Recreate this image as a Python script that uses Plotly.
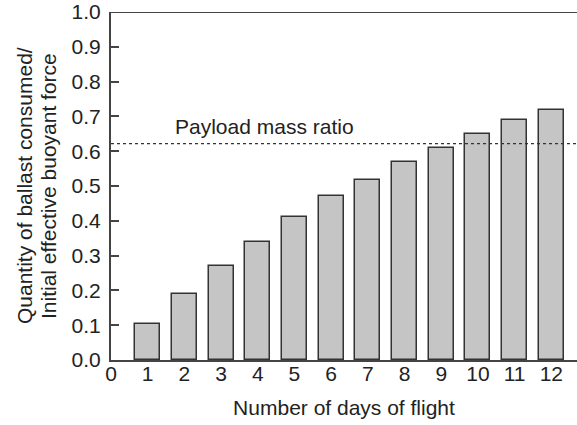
import plotly.graph_objects as go

days = [1, 2, 3, 4, 5, 6, 7, 8, 9, 10, 11, 12]
ratio = [0.103, 0.189, 0.271, 0.338, 0.411, 0.470, 0.518, 0.570, 0.608, 0.649, 0.690, 0.717]
payload_ratio = 0.622
x_ticks = [0, 1, 2, 3, 4, 5, 6, 7, 8, 9, 10, 11, 12]
y_ticks = [0.0, 0.1, 0.2, 0.3, 0.4, 0.5, 0.6, 0.7, 0.8, 0.9, 1.0]

FONT = "Liberation Sans, Arial, sans-serif"
TXT = "#222222"
FS = 21

fig = go.Figure()
fig.add_trace(go.Bar(
    x=days, y=ratio, width=0.68,
    marker=dict(color="#c4c5c4", line=dict(color="#333333", width=1.5)),
    showlegend=False,
))

fig.add_shape(type="line", xref="paper", yref="y", x0=0, x1=1, y0=payload_ratio, y1=payload_ratio,
              line=dict(color="#333333", width=1.3, dash="dot"))
fig.add_shape(type="line", xref="paper", yref="y", x0=0, x1=1, y0=1.0, y1=1.0,
              line=dict(color="#444444", width=2))

fig.add_annotation(x=1.69, y=0.67, xref="x", yref="y", text="Payload mass ratio",
                   showarrow=False, xanchor="left", yanchor="middle",
                   font=dict(family=FONT, size=FS, color=TXT))
fig.add_annotation(x=(24 - 111) / 466, y=0.5, xref="paper", yref="paper",
                   text="Quantity of ballast consumed/", textangle=-90, showarrow=False,
                   xanchor="center", yanchor="middle",
                   font=dict(family=FONT, size=FS, color=TXT))
fig.add_annotation(x=(48 - 111) / 466, y=0.5, xref="paper", yref="paper",
                   text="Initial effective buoyant force", textangle=-90, showarrow=False,
                   xanchor="center", yanchor="middle",
                   font=dict(family=FONT, size=FS, color=TXT))

fig.update_layout(
    width=577, height=425,
    margin=dict(l=111, r=0, t=12, b=65),
    plot_bgcolor="white", paper_bgcolor="white",
    font=dict(family=FONT, size=FS, color=TXT),
    bargap=0,
)
fig.update_xaxes(
    range=[0, 12.7], tickvals=x_ticks, ticktext=[str(v) for v in x_ticks],
    showgrid=False, zeroline=False, showline=True, linecolor="#444444", linewidth=2,
    ticks="", ticklabelstandoff=-6, automargin=False,
    title=dict(text="Number of days of flight", standoff=16, font=dict(size=FS)),
    tickfont=dict(size=FS),
)
fig.update_yaxes(
    range=[0, 1.0], tickvals=y_ticks, ticktext=[f"{v:.1f}" for v in y_ticks],
    showgrid=False, zeroline=False, showline=True, linecolor="#444444", linewidth=2,
    ticks="inside", ticklen=8, tickcolor="#444444", tickwidth=1.5,
    tickfont=dict(size=FS), ticklabelstandoff=4, automargin=False,
)

fig.write_html("out.html", config={"displayModeBar": False},
               post_script="document.body.style.margin='0';")
